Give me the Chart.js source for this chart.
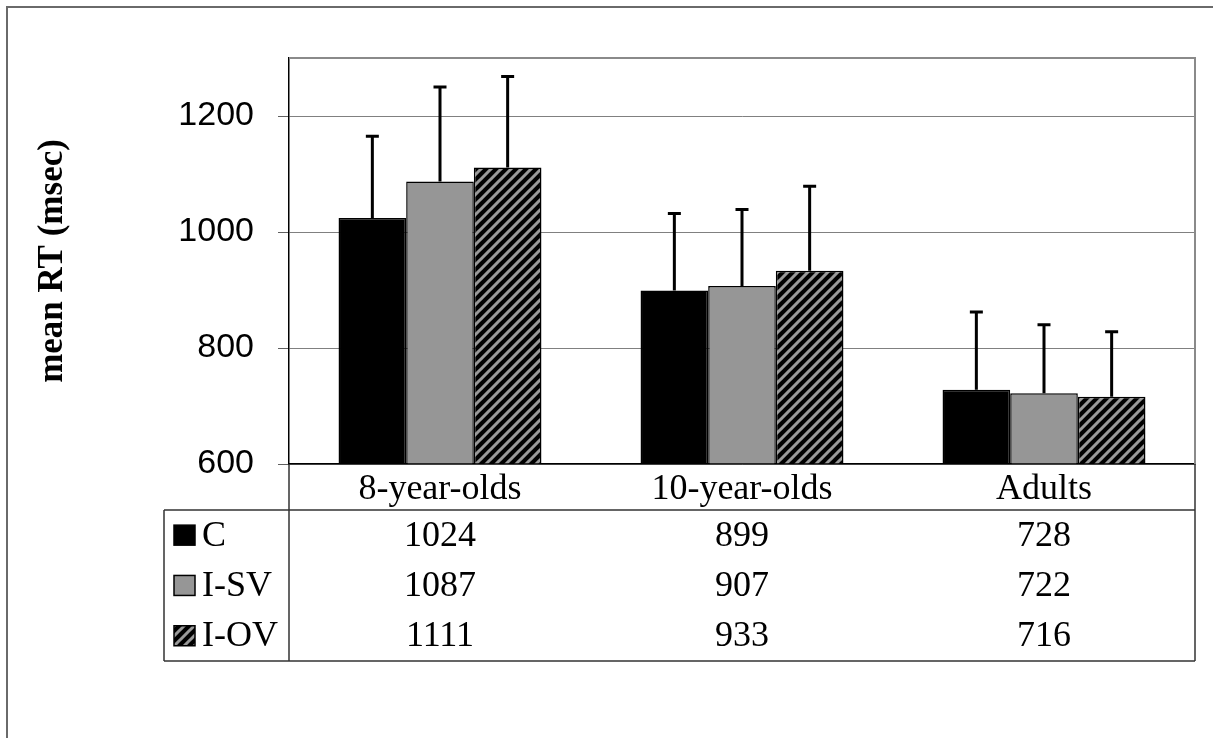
<!DOCTYPE html>
<html>
<head>
<meta charset="utf-8">
<script src="https://cdn.jsdelivr.net/npm/chart.js@4"></script>
<style>
  body { margin: 0; background: #fff; }
  #wrap { width: 1213px; height: 738px; }
</style>
</head>
<body>
<div id="wrap"><canvas id="chart1" width="1213" height="738"></canvas></div>
<script>
// ----------------------------
// data
// ----------------------------
const groups = ["8-year-olds", "10-year-olds", "Adults"];
const seriesNames = ["C", "I-SV", "I-OV"];
const valC   = [1024, 899, 728];
const valISV = [1087, 907, 722];
const valIOV = [1111, 933, 716];
// upper error bars (SD), estimated from the whisker tops
const errC   = [141, 133, 134];
const errISV = [163, 132, 118];
const errIOV = [157, 146, 112];
const yTicks = [600, 800, 1000, 1200];

const serif = "'Liberation Serif', 'Times New Roman', serif";
const sans = "'Liberation Sans', Arial, sans-serif";

const ctx = document.getElementById("chart1").getContext("2d");

// diagonal stripes, black ground / gray lines
function makeHatch() {
  const c = document.createElement("canvas");
  c.width = 10; c.height = 10;
  const g = c.getContext("2d");
  g.fillStyle = "#000";
  g.fillRect(0, 0, 10, 10);
  g.strokeStyle = "#999";
  g.lineWidth = 3;
  g.beginPath();
  g.moveTo(0, 10); g.lineTo(10, 0);
  g.moveTo(-5, 5); g.lineTo(5, -5);
  g.moveTo(5, 15); g.lineTo(15, 5);
  g.stroke();
  return ctx.createPattern(c, "repeat");
}
const hatch = makeHatch();
const fills = ["#000", "#969696", hatch];

function ds(label, data, err, color) {
  return {
    label,
    data,
    err,
    backgroundColor: color,
    borderColor: "#000",
    borderWidth: 1.5,
    base: 600,
    barPercentage: 1,
    categoryPercentage: 0.672
  };
}

// ----------------------------
// plugins: frame, error bars, data table
// ----------------------------
const framePlugin = {
  id: "frame",
  beforeDraw(chart) {
    const c = chart.ctx;
    c.save();
    c.fillStyle = "#fff";
    c.fillRect(0, 0, chart.width, chart.height);
    c.strokeStyle = "#6a6a6a";
    c.lineWidth = 2;
    c.beginPath();
    c.moveTo(chart.width, 7); c.lineTo(7, 7); c.lineTo(7, chart.height);
    c.stroke();
    c.restore();
  }
};

const errorBars = {
  id: "errorBars",
  afterDatasetsDraw(chart) {
    const c = chart.ctx;
    const y = chart.scales.y;
    c.save();
    c.strokeStyle = "#000";
    c.lineWidth = 3;
    chart.data.datasets.forEach((d, di) => {
      chart.getDatasetMeta(di).data.forEach((bar, i) => {
        const top = y.getPixelForValue(d.data[i] + d.err[i]);
        c.beginPath();
        c.moveTo(bar.x, bar.y);
        c.lineTo(bar.x, top);
        c.moveTo(bar.x - 6.5, top);
        c.lineTo(bar.x + 6.5, top);
        c.stroke();
      });
    });
    c.restore();
  }
};

const dataTable = {
  id: "dataTable",
  afterDraw(chart) {
    const c = chart.ctx;
    const a = chart.chartArea;
    const x = chart.scales.x;
    const tLeft = 164, headBottom = a.bottom + 46, rowH = 50.3;
    const tBottom = headBottom + 3 * rowH;
    c.save();
    // plot border top/right
    c.strokeStyle = "#8a8a8a";
    c.lineWidth = 2;
    c.beginPath();
    c.moveTo(a.left, a.top); c.lineTo(a.right, a.top); c.lineTo(a.right, a.bottom);
    c.stroke();
    // table lines
    c.strokeStyle = "#333";
    c.lineWidth = 1.5;
    c.beginPath();
    c.moveTo(tLeft, headBottom); c.lineTo(a.right, headBottom);
    c.moveTo(tLeft, tBottom); c.lineTo(a.right, tBottom);
    c.moveTo(tLeft, headBottom); c.lineTo(tLeft, tBottom);
    c.moveTo(a.left, a.bottom); c.lineTo(a.left, tBottom);
    c.moveTo(a.right, a.bottom); c.lineTo(a.right, tBottom);
    c.stroke();
    // rows
    c.font = "36px " + serif;
    c.textBaseline = "middle";
    chart.data.datasets.forEach((d, di) => {
      const cy = headBottom + rowH * (di + 0.5);
      // key square
      c.fillStyle = d.backgroundColor;
      c.fillRect(174, cy - 10, 21, 20);
      c.strokeStyle = "#000";
      c.lineWidth = 1.5;
      c.strokeRect(174, cy - 10, 21, 20);
      c.fillStyle = "#000";
      c.textAlign = "left";
      c.fillText(d.label, 202, cy + 1);
      c.textAlign = "center";
      d.data.forEach((v, i) => {
        c.fillText(String(v), x.getPixelForValue(i), cy + 1);
      });
    });
    c.restore();
  }
};

// ----------------------------
// chart
// ----------------------------
new Chart(ctx, {
  type: "bar",
  data: {
    labels: groups,
    datasets: [
      ds(seriesNames[0], valC, errC, fills[0]),
      ds(seriesNames[1], valISV, errISV, fills[1]),
      ds(seriesNames[2], valIOV, errIOV, fills[2])
    ]
  },
  options: {
    responsive: false,
    animation: false,
    events: [],
    layout: { padding: { left: 0, top: 58, right: 18, bottom: 0 } },
    plugins: {
      legend: { display: false },
      tooltip: { enabled: false }
    },
    scales: {
      x: {
        afterFit(s) { s.height = 274; },
        grid: { display: false, drawTicks: false },
        border: { display: true, color: "#000", width: 1.5 },
        ticks: {
          color: "#000",
          font: { family: serif, size: 36 },
          padding: 4,
          maxRotation: 0
        }
      },
      y: {
        min: 600,
        max: 1300,
        afterFit(s) { s.width = 289; },
        afterBuildTicks(s) { s.ticks = yTicks.map(v => ({ value: v })); },
        grid: {
          color: "#808080",
          lineWidth: 1,
          tickLength: 11,
          tickColor: "#606060"
        },
        border: { color: "#000", width: 1.5 },
        ticks: {
          color: "#000",
          font: { family: sans, size: 34 },
          padding: 24,
          callback: v => String(v)
        },
        title: {
          display: true,
          text: "mean RT (msec)",
          color: "#000",
          font: { family: serif, size: 35, weight: "bold" },
          padding: { top: 32, bottom: 0 }
        }
      }
    }
  },
  plugins: [framePlugin, errorBars, dataTable]
});
</script>
</body>
</html>
